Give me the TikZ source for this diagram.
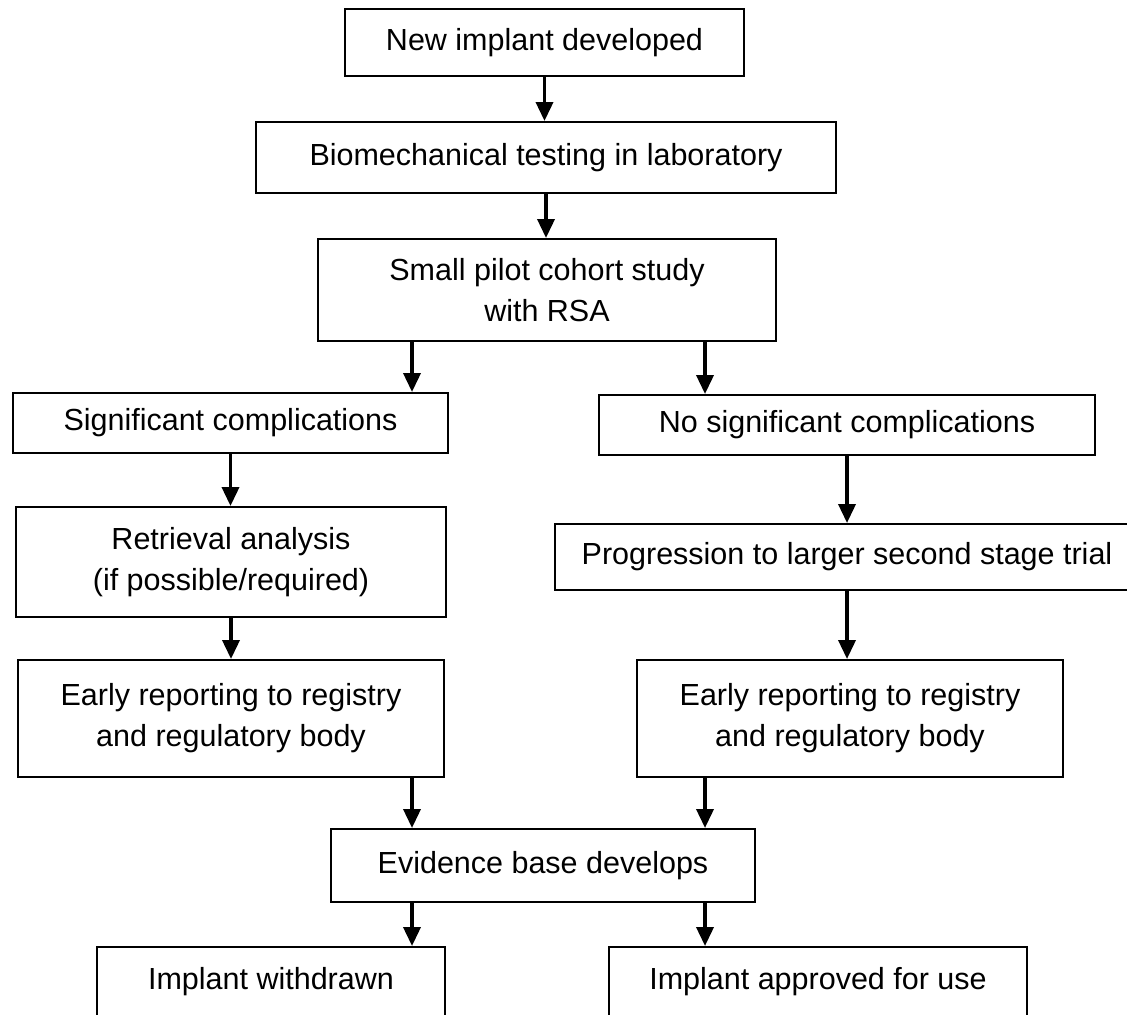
\documentclass[tikz,border=0pt]{standalone}
\usepackage{fontspec}
\setmainfont{Liberation Sans}
\usetikzlibrary{arrows.meta}
\tikzset{
  stage/.style={draw, line width=1pt, align=center, inner sep=0pt,
    font=\fontsize{15.25}{20.5}\selectfont},
  flow/.style={-{Triangle[length=9.5pt,width=8.5pt]}, line width=1.8pt},
}
\begin{document}
\begin{tikzpicture}[x=0.5pt,y=-0.5pt]
		\path [use as bounding box, clip] (0,0) rectangle (1127,1014);
		% columns of the arrows between the two branches
		\coordinate (colL) at (412,0);
		\coordinate (colR) at (705,0);

		\node (newimp) at (544.5,42.5) [stage, minimum width=199.5pt, minimum height=33.5pt] {New implant developed};
		\node (biomech) at (546,157.5) [stage, minimum width=290pt, minimum height=35.5pt] {Biomechanical testing in laboratory};
		\node (pilot) at (547,290) [stage, minimum width=229pt, minimum height=51pt] {Small pilot cohort study\\with RSA};
		\node (sig) at (230.5,423) [stage, minimum width=217.5pt, minimum height=30pt] {Significant complications};
		\node (nosig) at (847,425) [stage, minimum width=248pt, minimum height=30pt] {No significant complications};
		\node (retr) at (231,562) [stage, minimum width=215pt, minimum height=55pt] {Retrieval analysis\\(if possible/required)};
		\node (prog) at (847,557) [stage, minimum width=292pt, minimum height=33pt] {Progression to larger second stage trial};
		\node (earlyL) at (231,718.5) [stage, minimum width=213pt, minimum height=58.5pt] {Early reporting to registry\\and regulatory body};
		\node (earlyR) at (850,718.5) [stage, minimum width=213pt, minimum height=58.5pt] {Early reporting to registry\\and regulatory body};
		\node (evid) at (543,865.5) [stage, minimum width=212pt, minimum height=36.5pt] {Evidence base develops};
		\node (withdr) at (271,982) [stage, minimum width=174pt, minimum height=35pt] {Implant withdrawn};
		\node (approv) at (818,982) [stage, minimum width=209pt, minimum height=35pt] {Implant approved for use};

		\draw [flow] (newimp.south) -- (newimp.south |- biomech.north);
		\draw [flow] (biomech.south) -- (biomech.south |- pilot.north);
		\draw [flow] (pilot.south -| colL) -- (sig.north -| colL);
		\draw [flow] (pilot.south -| colR) -- (nosig.north -| colR);
		\draw [flow] (sig.south) -- (sig.south |- retr.north);
		\draw [flow] (nosig.south) -- (nosig.south |- prog.north);
		\draw [flow] (retr.south) -- (retr.south |- earlyL.north);
		\draw [flow] (prog.south) -- (prog.south |- earlyR.north);
		\draw [flow] (earlyL.south -| colL) -- (evid.north -| colL);
		\draw [flow] (earlyR.south -| colR) -- (evid.north -| colR);
		\draw [flow] (evid.south -| colL) -- (withdr.north -| colL);
		\draw [flow] (evid.south -| colR) -- (approv.north -| colR);
\end{tikzpicture}
\end{document}
